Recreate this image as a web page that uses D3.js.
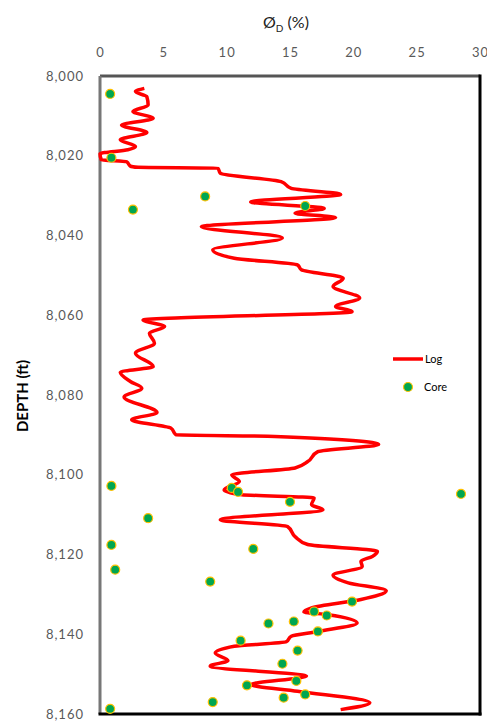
<!DOCTYPE html>
<html>
<head>
<meta charset="utf-8">
<script src="https://cdnjs.cloudflare.com/ajax/libs/d3/7.8.5/d3.min.js"></script>
<style>
  body { margin: 0; background: #fff; }
  text { font-family: Lato, "Open Sans", sans-serif; }
</style>
</head>
<body>
<div id="chart"></div>
<script>
// Density porosity log vs core porosity

var logDepth = [8003.1, 8003.9, 8005.2, 8007.3, 8008.9, 8010.6, 8012.3, 8014.2, 8016.0, 8017.7,
  8018.5, 8019.5, 8021.0, 8021.5, 8022.6, 8022.9, 8023.1, 8024.4, 8026.5, 8028.2,
  8029.7, 8031.6, 8033.2, 8034.4, 8035.5, 8037.8, 8040.6, 8043.6, 8045.7, 8047.4,
  8048.6, 8050.7, 8052.8, 8055.7, 8057.8, 8059.1, 8061.2, 8062.8, 8064.5, 8067.0,
  8069.5, 8072.9, 8074.3, 8076.6, 8078.3, 8080.5, 8084.4, 8086.2, 8088.3, 8090.0,
  8090.4, 8092.4, 8094.2, 8096.7, 8098.3, 8100.0, 8101.7, 8103.8, 8105.0, 8105.8,
  8107.5, 8108.8, 8111.3, 8113.0, 8115.5, 8117.5, 8119.2, 8120.5, 8121.7, 8123.0,
  8125.2, 8127.1, 8129.1, 8131.3, 8133.4, 8134.4, 8135.1, 8137.2, 8139.3, 8140.5,
  8141.9, 8143.0, 8144.7, 8146.6, 8148.0, 8150.5, 8152.6, 8154.3, 8157.2, 8158.9];

var logPhi = [3.5, 2.8, 3.7, 3.8, 2.6, 4.2, 1.7, 3.7, 1.6, 2.8,
  2.2, 0.0, 0.1, 2.1, 2.4, 3.0, 9.3, 9.5, 14.3, 15.1,
  19.0, 11.9, 17.7, 15.4, 18.6, 8.0, 14.4, 8.9, 10.6, 15.6,
  15.9, 19.2, 18.4, 20.5, 18.6, 19.9, 3.4, 5.1, 3.9, 4.3,
  2.8, 4.2, 1.6, 2.4, 3.3, 1.9, 4.5, 2.5, 5.6, 6.0,
  13.8, 22.0, 17.2, 16.4, 15.4, 10.4, 11.0, 9.8, 11.2, 16.9,
  16.7, 17.6, 9.5, 14.8, 15.4, 16.4, 21.9, 21.5, 20.6, 20.7,
  18.4, 19.6, 22.6, 20.6, 16.7, 16.1, 18.0, 20.3, 17.2, 15.1,
  14.7, 10.6, 9.1, 10.1, 8.7, 16.3, 11.9, 15.6, 21.3, 19.0];

var coreDepth = [8004.5, 8020.5, 8030.2, 8033.5, 8032.6, 8102.8, 8103.3, 8104.3, 8104.8, 8106.8,
  8110.9, 8117.6, 8118.6, 8123.8, 8126.8, 8131.8, 8134.3, 8135.3, 8137.3, 8136.8,
  8139.3, 8141.6, 8144.1, 8147.4, 8151.7, 8152.8, 8155.1, 8155.9, 8157.0, 8158.7];

var corePhi = [0.8, 0.9, 8.3, 2.6, 16.2, 0.9, 10.4, 10.9, 28.5, 15.0,
  3.8, 0.9, 12.1, 1.2, 8.7, 19.9, 16.9, 17.9, 13.3, 15.3,
  17.2, 11.1, 15.6, 14.4, 15.5, 11.6, 16.2, 14.5, 8.9, 0.8];

var xTicks = [0, 5, 10, 15, 20, 25, 30];
var yTicks = [8000, 8020, 8040, 8060, 8080, 8100, 8120, 8140, 8160];

var width = 487,
    height = 725,
    margin = {left: 100, top: 76, right: 7, bottom: 11};

var svg = d3.select('#chart').append('svg')
  .attr('width', width)
  .attr('height', height);

var x = d3.scaleLinear().domain([0, 30]).range([margin.left, width - margin.right]);
var y = d3.scaleLinear().domain([8000, 8160]).range([margin.top, height - margin.bottom]);

// axes, labels only
var xAxis = svg.append('g')
  .attr('transform', 'translate(0,' + margin.top + ')')
  .call(d3.axisTop(x).tickValues(xTicks).tickSize(0).tickPadding(19));
var yAxis = svg.append('g')
  .attr('transform', 'translate(' + margin.left + ',0)')
  .call(d3.axisLeft(y).tickValues(yTicks).tickSize(0).tickPadding(16).tickFormat(d3.format(',')));

[xAxis, yAxis].forEach(function(a) {
  a.select('.domain').remove();
  a.selectAll('text')
    .style('font-family', 'Lato, "Open Sans", sans-serif')
    .style('font-size', '13px')
    .style('letter-spacing', '1px')
    .attr('fill', '#595959');
});

// frame
svg.append('line').attr('x1', x(0)).attr('x2', x(30)).attr('y1', y(8000)).attr('y2', y(8000))
  .attr('stroke', '#555').attr('stroke-width', 3);
svg.append('line').attr('x1', x(0)).attr('x2', x(0)).attr('y1', y(8000)).attr('y2', y(8160))
  .attr('stroke', '#777').attr('stroke-width', 3);
svg.append('line').attr('x1', x(30)).attr('x2', x(30)).attr('y1', y(8000) - 1.5).attr('y2', y(8160) + 1.5)
  .attr('stroke', '#000').attr('stroke-width', 3);
svg.append('line').attr('x1', x(0) - 1.5).attr('x2', x(30) + 1.5).attr('y1', y(8160)).attr('y2', y(8160))
  .attr('stroke', '#000').attr('stroke-width', 3);

// log curve
var logData = logDepth.map(function(d, i) { return {depth: d, phi: logPhi[i]}; });
var line = d3.line()
  .x(function(d) { return x(d.phi); })
  .y(function(d) { return y(d.depth); })
  .curve(d3.curveMonotoneY);

svg.append('path')
  .datum(logData)
  .attr('d', line)
  .attr('fill', 'none')
  .attr('stroke', '#ff0000')
  .attr('stroke-width', 3.5)
  .attr('stroke-linejoin', 'round');

// core points
var coreData = coreDepth.map(function(d, i) { return {depth: d, phi: corePhi[i]}; });
svg.selectAll('.core').data(coreData).enter()
  .append('circle')
  .attr('class', 'core')
  .attr('cx', function(d) { return x(d.phi); })
  .attr('cy', function(d) { return y(d.depth); })
  .attr('r', 4.5)
  .attr('fill', '#00a651')
  .attr('stroke', '#ffc000')
  .attr('stroke-width', 1.2);

// titles
var title = svg.append('text')
  .attr('x', 286)
  .attr('y', 28)
  .attr('text-anchor', 'middle')
  .style('font-size', '16px')
  .attr('fill', '#222');
title.append('tspan').text('Ø');
title.append('tspan').attr('dy', 4).style('font-size', '10px').text('D');
title.append('tspan').attr('dy', -4).text(' (%)');

svg.append('text')
  .attr('transform', 'translate(28,396) rotate(-90)')
  .attr('text-anchor', 'middle')
  .style('font-size', '15px')
  .style('font-weight', 'bold')
  .attr('fill', '#000')
  .text('DEPTH (ft)');

// legend
var legend = svg.append('g').attr('transform', 'translate(393,359)');
legend.append('line').attr('x1', 0).attr('x2', 30).attr('y1', 0).attr('y2', 0)
  .attr('stroke', '#ff0000').attr('stroke-width', 3.5);
legend.append('text').attr('x', 32).attr('y', 4).style('font-size', '11px').attr('fill', '#000').text('Log');
legend.append('circle').attr('cx', 15).attr('cy', 28).attr('r', 4.5)
  .attr('fill', '#00a651').attr('stroke', '#ffc000').attr('stroke-width', 1.2);
legend.append('text').attr('x', 31).attr('y', 32).style('font-size', '11px').attr('fill', '#000').text('Core');
</script>
</body>
</html>
